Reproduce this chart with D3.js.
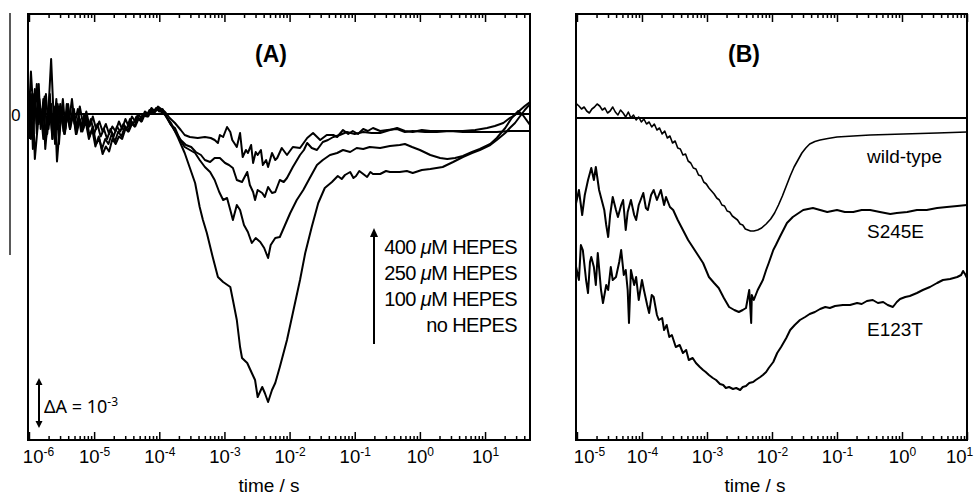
<!DOCTYPE html>
<html><head><meta charset="utf-8">
<script src="https://cdn.jsdelivr.net/npm/d3@7"></script>
<style>body{margin:0;background:#fff}svg{display:block}</style>
</head><body><svg id="c" width="974" height="497"></svg>
<script>
// ---------- DATA (x = log10(time / s), y = ΔA in units of 10^-3) ----------
const aTickExps = [-6, -5, -4, -3, -2, -1, 0, 1];
const bTickExps = [-5, -4, -3, -2, -1, 0, 1];
const aLegend = ["400 μM HEPES", "250 μM HEPES", "100 μM HEPES", "no HEPES"];
const bLabels = ["wild-type", "S245E", "E123T"];

const a400 = [[-6.00,-0.3],[-5.97,0.3],[-5.94,-0.1],[-5.91,0.5],[-5.88,-0.4],[-5.85,0.2],[-5.81,-0.2],[-5.78,0.3],[-5.74,-0.5],[-5.70,0.1],[-5.66,1.1],[-5.63,0.2],[-5.60,-0.6],[-5.56,0.2],[-5.52,-0.2],[-5.48,0.3],[-5.44,-0.3],[-5.40,0.2],[-5.36,-0.2],[-5.31,0.1],[-5.27,-0.3],[-5.22,0.15],[-5.17,-0.2],[-5.12,0.05],[-5.07,-0.25],[-5.02,-0.05],[-4.97,-0.3],[-4.92,-0.15],[-4.87,-0.35],[-4.82,-0.2],[-4.77,-0.4],[-4.72,-0.25],[-4.67,-0.35],[-4.62,-0.15],[-4.57,-0.3],[-4.52,-0.1],[-4.47,-0.25],[-4.42,-0.05],[-4.37,-0.15],[-4.32,0.0],[-4.27,-0.1],[-4.22,0.05],[-4.17,0.0],[-4.12,0.12],[-4.07,0.05],[-4.02,0.15],[-3.97,0.1],
[-3.91,0.04],[-3.84,-0.08],[-3.76,-0.18],[-3.67,-0.32],[-3.61,-0.42],[-3.53,-0.46],[-3.41,-0.48],[-3.30,-0.46],[-3.21,-0.48],[-3.15,-0.52],[-3.10,-0.58],[-3.07,-0.42],[-3.02,-0.46],[-2.96,-0.26],[-2.91,-0.36],[-2.88,-0.52],[-2.81,-0.66],[-2.76,-0.38],[-2.72,-0.86],[-2.67,-0.72],[-2.64,-0.78],[-2.59,-0.62],[-2.56,-0.98],[-2.52,-0.76],[-2.49,-0.82],[-2.44,-0.72],[-2.41,-1.02],[-2.36,-0.92],[-2.33,-1.06],[-2.27,-0.78],[-2.22,-0.92],[-2.19,-0.88],[-2.12,-0.68],[-2.04,-0.82],[-1.95,-0.66],[-1.84,-0.68],[-1.73,-0.48],[-1.64,-0.38],[-1.53,-0.52],[-1.43,-0.42],[-1.33,-0.42],[-1.27,-0.46],[-1.18,-0.32],[-1.10,-0.40],[-1.03,-0.34],[-0.95,-0.40],[-0.87,-0.30],[-0.80,-0.34],[-0.72,-0.28],[-0.61,-0.34],[-0.50,-0.32],[-0.35,-0.30],[-0.23,-0.36],[-0.11,-0.34],[0.08,-0.36],[0.26,-0.36],[0.46,-0.34],[0.66,-0.36],[0.92,-0.36],[1.18,-0.36],[1.38,-0.34],[1.54,-0.34],[1.69,-0.34]];

const a250 = [[-6.00,0.2],[-5.97,-0.5],[-5.94,0.4],[-5.91,0.0],[-5.88,0.6],[-5.85,-0.2],[-5.82,0.1],[-5.78,-0.5],[-5.74,0.4],[-5.70,-0.3],[-5.66,0.2],[-5.62,-0.4],[-5.58,0.3],[-5.54,-0.6],[-5.50,0.1],[-5.46,-0.4],[-5.42,0.2],[-5.38,-0.1],[-5.34,0.3],[-5.30,-0.2],[-5.25,0.1],[-5.20,-0.35],[-5.15,0.0],[-5.10,-0.3],[-5.05,-0.1],[-5.00,-0.4],[-4.95,-0.2],[-4.90,-0.45],[-4.85,-0.3],[-4.80,-0.5],[-4.75,-0.3],[-4.70,-0.45],[-4.65,-0.25],[-4.60,-0.35],[-4.55,-0.2],[-4.50,-0.3],[-4.45,-0.1],[-4.40,-0.2],[-4.35,-0.05],[-4.30,-0.12],[-4.25,0.0],[-4.20,-0.05],[-4.15,0.08],[-4.10,0.02],[-4.05,0.12],[-4.00,0.05],[-3.95,0.1],
[-3.91,0.0],[-3.82,-0.22],[-3.74,-0.38],[-3.67,-0.52],[-3.59,-0.62],[-3.51,-0.66],[-3.44,-0.76],[-3.36,-0.82],[-3.30,-0.92],[-3.22,-0.96],[-3.15,-0.88],[-3.07,-0.88],[-2.99,-0.98],[-2.93,-1.02],[-2.87,-1.08],[-2.81,-1.32],[-2.73,-1.36],[-2.65,-1.16],[-2.61,-1.42],[-2.56,-1.56],[-2.53,-1.72],[-2.49,-1.52],[-2.42,-1.58],[-2.38,-1.66],[-2.33,-1.46],[-2.27,-1.58],[-2.22,-1.56],[-2.15,-1.32],[-2.09,-1.36],[-2.04,-1.28],[-1.95,-1.06],[-1.84,-0.82],[-1.78,-0.72],[-1.73,-0.58],[-1.66,-0.68],[-1.58,-0.72],[-1.49,-0.56],[-1.41,-0.52],[-1.33,-0.46],[-1.23,-0.42],[-1.12,-0.36],[-1.00,-0.40],[-0.87,-0.36],[-0.74,-0.38],[-0.61,-0.38],[-0.46,-0.32],[-0.35,-0.28],[-0.23,-0.34],[-0.11,-0.36],[0.03,-0.32],[0.16,-0.34],[0.39,-0.34],[0.66,-0.34],[0.85,-0.32],[1.03,-0.28],[1.15,-0.24],[1.28,-0.18],[1.38,-0.08],[1.46,-0.02],[1.54,0.08],[1.61,0.16],[1.69,0.24]];

const a100 = [[-6.00,-0.5],[-5.97,0.4],[-5.94,-0.7],[-5.91,0.3],[-5.88,-0.2],[-5.85,0.6],[-5.82,-0.3],[-5.78,0.2],[-5.75,-0.7],[-5.71,-0.1],[-5.68,0.4],[-5.64,-0.5],[-5.60,0.0],[-5.57,-0.95],[-5.53,-0.3],[-5.49,0.1],[-5.45,-0.4],[-5.41,0.0],[-5.37,-0.3],[-5.33,0.1],[-5.28,-0.4],[-5.23,-0.1],[-5.18,-0.35],[-5.13,-0.15],[-5.08,-0.5],[-5.03,-0.3],[-4.98,-0.65],[-4.93,-0.45],[-4.88,-0.7],[-4.83,-0.5],[-4.78,-0.6],[-4.73,-0.4],[-4.68,-0.55],[-4.63,-0.35],[-4.58,-0.45],[-4.53,-0.25],[-4.48,-0.35],[-4.43,-0.15],[-4.38,-0.25],[-4.33,-0.05],[-4.28,-0.15],[-4.23,0.0],[-4.18,-0.05],[-4.13,0.08],[-4.08,0.02],[-4.03,0.1],[-3.98,0.05],
[-3.91,-0.02],[-3.82,-0.22],[-3.76,-0.28],[-3.68,-0.52],[-3.61,-0.66],[-3.53,-0.72],[-3.45,-0.78],[-3.38,-0.92],[-3.30,-1.06],[-3.22,-1.16],[-3.15,-1.32],[-3.08,-1.56],[-3.02,-1.72],[-2.96,-1.68],[-2.91,-1.92],[-2.87,-2.12],[-2.81,-1.82],[-2.76,-1.92],[-2.70,-2.22],[-2.64,-2.36],[-2.58,-2.58],[-2.52,-2.48],[-2.45,-2.56],[-2.39,-2.68],[-2.33,-2.88],[-2.29,-2.62],[-2.22,-2.48],[-2.15,-2.46],[-2.07,-2.22],[-1.99,-1.98],[-1.89,-1.72],[-1.79,-1.52],[-1.69,-1.28],[-1.58,-1.02],[-1.49,-0.92],[-1.38,-0.82],[-1.27,-0.78],[-1.18,-0.72],[-1.07,-0.76],[-0.97,-0.68],[-0.87,-0.70],[-0.77,-0.66],[-0.61,-0.68],[-0.46,-0.64],[-0.31,-0.62],[-0.23,-0.60],[-0.12,-0.66],[0.00,-0.72],[0.16,-0.82],[0.31,-0.88],[0.42,-0.90],[0.54,-0.88],[0.66,-0.84],[0.80,-0.76],[0.92,-0.70],[1.08,-0.60],[1.18,-0.48],[1.31,-0.28],[1.41,-0.08],[1.51,0.06],[1.58,-0.02],[1.69,-0.22]];

const aNone = [[-6.00,0.0],[-5.97,0.85],[-5.94,0.2],[-5.91,-0.9],[-5.87,-0.3],[-5.84,0.3],[-5.80,-0.2],[-5.76,0.35],[-5.72,-0.4],[-5.68,0.1],[-5.64,-0.5],[-5.60,0.15],[-5.56,-0.3],[-5.52,0.2],[-5.47,-0.35],[-5.42,0.05],[-5.37,-0.3],[-5.32,0.0],[-5.27,-0.4],[-5.22,-0.1],[-5.17,-0.3],[-5.12,-0.05],[-5.07,-0.45],[-5.02,-0.25],[-4.97,-0.6],[-4.92,-0.5],[-4.87,-0.8],[-4.82,-0.65],[-4.77,-0.75],[-4.72,-0.5],[-4.67,-0.6],[-4.62,-0.45],[-4.57,-0.5],[-4.52,-0.3],[-4.47,-0.35],[-4.42,-0.2],[-4.37,-0.25],[-4.32,-0.1],[-4.27,-0.15],[-4.22,0.0],[-4.17,-0.05],[-4.12,0.1],[-4.07,0.05],[-4.02,0.12],[-3.97,0.08],
[-3.91,-0.02],[-3.82,-0.18],[-3.71,-0.48],[-3.61,-0.78],[-3.53,-1.08],[-3.45,-1.38],[-3.38,-1.86],[-3.33,-2.12],[-3.27,-2.38],[-3.18,-2.86],[-3.10,-3.26],[-3.02,-3.36],[-2.91,-3.46],[-2.87,-3.72],[-2.81,-4.12],[-2.76,-4.66],[-2.73,-4.88],[-2.65,-4.98],[-2.58,-5.18],[-2.53,-5.32],[-2.49,-5.66],[-2.42,-5.46],[-2.38,-5.58],[-2.33,-5.76],[-2.27,-5.52],[-2.22,-5.38],[-2.15,-5.06],[-2.04,-4.52],[-1.95,-3.98],[-1.84,-3.32],[-1.76,-2.78],[-1.66,-2.26],[-1.56,-1.78],[-1.46,-1.48],[-1.35,-1.36],[-1.26,-1.24],[-1.20,-1.30],[-1.15,-1.22],[-1.07,-1.16],[-1.02,-1.28],[-0.98,-1.24],[-0.93,-1.14],[-0.89,-1.18],[-0.81,-1.26],[-0.76,-1.16],[-0.72,-1.20],[-0.61,-1.20],[-0.52,-1.14],[-0.46,-1.16],[-0.31,-1.16],[-0.20,-1.14],[-0.11,-1.18],[0.03,-1.12],[0.16,-1.10],[0.35,-1.06],[0.51,-0.96],[0.66,-0.86],[0.80,-0.78],[0.92,-0.72],[1.08,-0.62],[1.18,-0.52],[1.31,-0.38],[1.38,-0.28],[1.46,-0.18],[1.54,-0.04],[1.61,0.08],[1.69,0.20]];

const bWild = [[-5.02,0.30],[-4.97,0.24],[-4.93,0.18],[-4.89,0.22],[-4.85,0.14],[-4.81,0.10],[-4.77,0.18],[-4.73,0.22],[-4.69,0.28],[-4.65,0.24],[-4.61,0.16],[-4.57,0.20],[-4.53,0.10],[-4.49,0.14],[-4.45,0.22],[-4.41,0.12],[-4.37,0.06],[-4.33,0.16],[-4.29,0.10],[-4.25,0.02],[-4.21,0.12],[-4.17,0.0],[-4.13,0.06],[-4.09,-0.04],[-4.05,0.02],[-4.01,-0.08],[-3.97,-0.02],[-3.93,-0.12],[-3.89,-0.08],[-3.85,-0.18],[-3.81,-0.12],[-3.77,-0.24],[-3.73,-0.20],[-3.69,-0.32],[-3.65,-0.26],[-3.61,-0.40],[-3.57,-0.36],[-3.53,-0.50],[-3.49,-0.46],[-3.45,-0.60],[-3.41,-0.62],[-3.37,-0.74],[-3.33,-0.72],[-3.29,-0.86],[-3.25,-0.90],[-3.21,-1.0],[-3.17,-1.02],[-3.13,-1.14],[-3.09,-1.16],[-3.05,-1.28],[-3.01,-1.32],[-2.97,-1.40],[-2.93,-1.46],[-2.89,-1.52],[-2.85,-1.60],[-2.81,-1.64],[-2.77,-1.74],[-2.73,-1.76],[-2.69,-1.86],[-2.65,-1.88],[-2.61,-1.96],[-2.57,-2.00],[-2.53,-2.04],[-2.49,-2.12],[-2.45,-2.14],[-2.41,-2.22],[-2.37,-2.24],[-2.33,-2.26],[-2.28,-2.26],[-2.22,-2.24],[-2.16,-2.20],[-2.09,-2.12],[-2.02,-2.02],[-1.96,-1.90],[-1.90,-1.74],[-1.84,-1.56],[-1.78,-1.36],[-1.72,-1.16],[-1.66,-0.98],[-1.60,-0.84],[-1.54,-0.70],[-1.48,-0.60],[-1.42,-0.52],[-1.34,-0.47],[-1.26,-0.44],[-1.14,-0.41],[-1.00,-0.38],[-0.75,-0.36],[-0.49,-0.34],[-0.23,-0.33],[0.02,-0.32],[0.28,-0.31],[0.54,-0.30],[0.77,-0.29],[1.00,-0.28]];

const bS245E = [[-5.02,-1.74],[-4.97,-1.44],[-4.92,-1.94],[-4.88,-1.54],[-4.83,-1.24],[-4.78,-1.00],[-4.74,-1.24],[-4.71,-0.98],[-4.66,-1.44],[-4.62,-1.64],[-4.58,-1.84],[-4.55,-2.14],[-4.52,-2.38],[-4.49,-1.94],[-4.45,-1.58],[-4.40,-1.84],[-4.37,-1.98],[-4.32,-1.74],[-4.29,-1.64],[-4.25,-2.24],[-4.22,-1.88],[-4.17,-1.64],[-4.12,-1.94],[-4.09,-2.04],[-4.05,-1.74],[-3.98,-1.50],[-3.94,-1.80],[-3.91,-1.84],[-3.86,-1.54],[-3.82,-1.44],[-3.77,-1.64],[-3.71,-1.44],[-3.66,-1.74],[-3.63,-1.58],[-3.57,-1.78],[-3.52,-1.84],[-3.45,-2.04],[-3.37,-2.24],[-3.29,-2.44],[-3.22,-2.58],[-3.14,-2.74],[-3.06,-2.90],[-2.97,-3.18],[-2.89,-3.30],[-2.82,-3.40],[-2.74,-3.60],[-2.66,-3.78],[-2.58,-3.84],[-2.51,-3.88],[-2.45,-3.84],[-2.40,-3.80],[-2.35,-3.44],[-2.32,-4.10],[-2.31,-3.54],[-2.28,-3.64],[-2.22,-3.44],[-2.14,-3.24],[-2.09,-3.04],[-2.05,-2.90],[-1.98,-2.64],[-1.94,-2.54],[-1.88,-2.38],[-1.77,-2.10],[-1.68,-1.98],[-1.52,-1.84],[-1.37,-1.80],[-1.26,-1.84],[-1.15,-1.88],[-1.00,-1.84],[-0.88,-1.88],[-0.75,-1.88],[-0.62,-1.84],[-0.49,-1.84],[-0.34,-1.88],[-0.18,-1.92],[-0.08,-1.90],[0.08,-1.88],[0.23,-1.84],[0.38,-1.84],[0.54,-1.80],[0.69,-1.78],[0.85,-1.76],[1.00,-1.74]];

const bE123T = [[-5.02,-2.94],[-4.97,-3.24],[-4.94,-2.54],[-4.91,-2.64],[-4.86,-3.24],[-4.83,-3.50],[-4.80,-2.88],[-4.78,-2.78],[-4.74,-2.98],[-4.71,-3.34],[-4.68,-2.70],[-4.63,-3.44],[-4.60,-3.70],[-4.55,-3.34],[-4.52,-3.44],[-4.48,-2.98],[-4.45,-3.24],[-4.40,-3.18],[-4.35,-2.88],[-4.32,-2.64],[-4.28,-3.14],[-4.25,-3.04],[-4.22,-3.44],[-4.20,-4.10],[-4.17,-3.04],[-4.12,-3.34],[-4.09,-3.18],[-4.05,-3.64],[-4.00,-3.24],[-3.97,-3.44],[-3.92,-3.74],[-3.89,-3.90],[-3.85,-3.54],[-3.82,-3.58],[-3.77,-3.94],[-3.74,-4.04],[-3.69,-4.00],[-3.66,-4.24],[-3.62,-4.14],[-3.58,-4.38],[-3.54,-4.34],[-3.48,-4.58],[-3.42,-4.54],[-3.37,-4.70],[-3.32,-4.64],[-3.28,-4.84],[-3.22,-4.80],[-3.17,-4.90],[-3.11,-4.98],[-3.06,-5.04],[-3.02,-5.08],[-2.97,-5.14],[-2.91,-5.20],[-2.86,-5.24],[-2.80,-5.32],[-2.75,-5.34],[-2.71,-5.40],[-2.66,-5.38],[-2.60,-5.42],[-2.55,-5.40],[-2.49,-5.44],[-2.45,-5.38],[-2.40,-5.36],[-2.35,-5.30],[-2.29,-5.28],[-2.25,-5.24],[-2.18,-5.18],[-2.14,-5.14],[-2.09,-5.08],[-2.05,-5.00],[-1.98,-4.88],[-1.92,-4.70],[-1.86,-4.58],[-1.78,-4.40],[-1.72,-4.24],[-1.65,-4.14],[-1.57,-4.04],[-1.49,-3.98],[-1.42,-3.92],[-1.34,-3.88],[-1.26,-3.82],[-1.18,-3.78],[-1.11,-3.80],[-1.03,-3.76],[-0.91,-3.74],[-0.80,-3.74],[-0.69,-3.70],[-0.62,-3.72],[-0.54,-3.66],[-0.45,-3.64],[-0.37,-3.70],[-0.29,-3.68],[-0.22,-3.74],[-0.14,-3.78],[-0.08,-3.68],[-0.03,-3.62],[0.05,-3.58],[0.12,-3.56],[0.23,-3.50],[0.32,-3.44],[0.43,-3.38],[0.54,-3.30],[0.63,-3.24],[0.74,-3.22],[0.85,-3.18],[0.91,-3.14],[0.94,-3.06],[0.97,-3.12],[1.00,-3.20]];

// ---------- DRAWING ----------
const FONT = '"Liberation Sans", Arial, Helvetica, sans-serif';
const svg = d3.select('#c');

function makePanel(cfg) {
  const x = d3.scaleLog().domain(cfg.xDomain).range(cfg.xRange);
  const y = d3.scaleLinear().domain(cfg.yDomain).range(cfg.yRange);
  const g = svg.append('g');
  const [x0, x1] = cfg.xRange, [yb, yt] = cfg.yRange;
  const clipId = 'clip' + cfg.id;
  svg.append('clipPath').attr('id', clipId).append('rect')
    .attr('x', x0).attr('y', yt).attr('width', x1 - x0).attr('height', yb - yt);

  const decades = cfg.tickExps.map(e => Math.pow(10, e));
  const all = x.ticks();
  const isDec = t => Math.abs(Math.log10(t) - Math.round(Math.log10(t))) < 1e-6;
  const minors = all.filter(t => !isDec(t));

  function strip(s) { s.select('.domain').remove(); s.selectAll('line').attr('stroke', '#000').attr('stroke-width', 1.5); }
  g.append('g').attr('transform', `translate(0,${yb})`)
    .call(d3.axisBottom(x).tickValues(minors).tickSize(-4).tickFormat('')).call(strip);
  g.append('g').attr('transform', `translate(0,${yt})`)
    .call(d3.axisTop(x).tickValues(minors).tickSize(-4).tickFormat('')).call(strip);
  g.append('g').attr('transform', `translate(0,${yt})`)
    .call(d3.axisTop(x).tickValues(decades).tickSize(-8).tickFormat('')).call(strip);
  const lab = g.append('g').attr('transform', `translate(0,${yb})`)
    .call(d3.axisBottom(x).tickValues(decades).tickSize(-8).tickPadding(10).tickFormat(''))
    .call(strip);
  const n = decades.length;
  lab.selectAll('.tick text').each(function (d, i) {
    const t = d3.select(this).attr('font-family', FONT).attr('font-size', 18.5).attr('fill', '#000');
    if (i === 0) t.attr('dx', cfg.firstDx);
    if (i === n - 1) t.attr('dx', cfg.lastDx);
    t.append('tspan').text('10');
    t.append('tspan').attr('font-size', 12).attr('dy', -7).text(String(Math.round(Math.log10(d))));
  });

  // frame
  g.append('rect').attr('x', x0).attr('y', yt).attr('width', x1 - x0).attr('height', yb - yt)
    .attr('fill', 'none').attr('stroke', '#000').attr('stroke-width', 2);
  // zero line
  g.append('line').attr('x1', x0).attr('x2', x1).attr('y1', y(0)).attr('y2', y(0))
    .attr('stroke', '#000').attr('stroke-width', 2);

  const line = d3.line().x(d => x(Math.pow(10, d[0]))).y(d => y(d[1]));
  const cg = g.append('g').attr('clip-path', `url(#${clipId})`);
  cfg.series.forEach(s => {
    cg.append('path').attr('d', line(s.data)).attr('fill', 'none').attr('stroke', '#000')
      .attr('stroke-width', s.w).attr('stroke-linejoin', 'round');
  });

  // axis title
  g.append('text').attr('x', cfg.titleX).attr('y', 492).attr('text-anchor', 'middle')
    .attr('font-family', FONT).attr('font-size', 19).text('time / s');
  // panel letter
  g.append('text').attr('x', cfg.letterX).attr('y', 62).attr('text-anchor', 'middle')
    .attr('font-family', FONT).attr('font-weight', 'bold').attr('font-size', 23).text(cfg.letter);
  return { x, y, g };
}

const A = makePanel({
  id: 'A', letter: '(A)', letterX: 271, titleX: 269, firstDx: 9, lastDx: 0,
  xDomain: [Math.pow(10, -6.015), Math.pow(10, 1.69)], xRange: [28, 530],
  yDomain: [-6.52, 2.0], yRange: [440, 14], tickExps: aTickExps,
  series: [{ data: a400, w: 2 }, { data: a250, w: 2 }, { data: a100, w: 2 }, { data: aNone, w: 2 }]
});
const B = makePanel({
  id: 'B', letter: '(B)', letterX: 744, titleX: 755, firstDx: 12, lastDx: -8,
  xDomain: [Math.pow(10, -5.015), 10], xRange: [576, 967],
  yDomain: [-6.44, 2.08], yRange: [440, 14], tickExps: bTickExps,
  series: [{ data: bWild, w: 1.6 }, { data: bS245E, w: 2 }, { data: bE123T, w: 2 }]
});

// Panel A extras: left reference bar and zero label
svg.append('line').attr('x1', 10).attr('x2', 10).attr('y1', 13).attr('y2', 255)
  .attr('stroke', '#000').attr('stroke-width', 1.3);
svg.append('text').attr('x', 11).attr('y', A.y(0) + 7).attr('font-family', '"Noto Sans", sans-serif')
  .attr('font-size', 17).text('0');

// scale bar ΔA = 10^-3
const sbTop = A.y(-5.28), sbBot = A.y(-6.28), sbX = 39;
svg.append('line').attr('x1', sbX).attr('x2', sbX).attr('y1', sbTop + 5).attr('y2', sbBot - 5)
  .attr('stroke', '#000').attr('stroke-width', 2);
svg.append('path').attr('d', `M${sbX},${sbTop} l-3.5,7 h7 z M${sbX},${sbBot} l-3.5,-7 h7 z`).attr('fill', '#000');
const sbt = svg.append('text').attr('x', 44).attr('y', 413).attr('font-family', '"Noto Sans", sans-serif').attr('font-size', 18);
sbt.append('tspan').text('ΔA = 10');
sbt.append('tspan').attr('font-size', 12).attr('dy', -7).text('-3');

// legend arrow + labels
svg.append('line').attr('x1', 374).attr('x2', 374).attr('y1', 344).attr('y2', 235)
  .attr('stroke', '#000').attr('stroke-width', 2);
svg.append('path').attr('d', 'M374,228 l-4,9 h8 z').attr('fill', '#000');
aLegend.forEach((s, i) => {
  const t = svg.append('text').attr('x', 517).attr('y', 254 + i * 26).attr('text-anchor', 'end')
    .attr('font-family', FONT).attr('font-size', 20).attr('letter-spacing', -0.6);
  const parts = s.split('μ');
  if (parts.length > 1) {
    t.append('tspan').text(parts[0]);
    t.append('tspan').attr('font-style', 'italic').text('μ');
    t.append('tspan').text(parts[1]);
  } else t.text(s);
});

// panel B labels
const bLabelY = [163, 238, 336];
bLabels.forEach((s, i) => {
  svg.append('text').attr('x', 867).attr('y', bLabelY[i]).attr('font-family', FONT)
    .attr('font-size', 19).text(s);
});
</script></body></html>
